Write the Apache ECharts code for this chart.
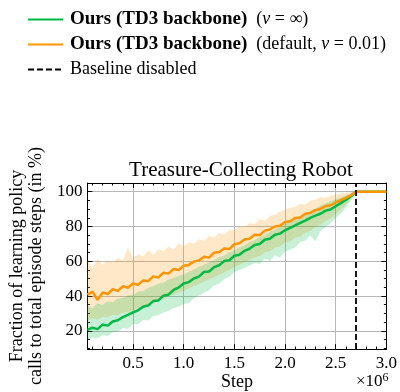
<!DOCTYPE html>
<html>
<head>
<meta charset="utf-8">
<script src="https://cdn.jsdelivr.net/npm/echarts@6/dist/echarts.min.js"></script>
<style>
html, body { margin: 0; background: #fff; }
#chart { width: 400px; height: 392px; }
</style>
</head>
<body>
<div id="chart"></div>
<script>
// steps in units of 1e6
var steps = [0.05, 0.10, 0.15, 0.20, 0.25, 0.30, 0.35, 0.40, 0.45, 0.50,
    0.55, 0.60, 0.65, 0.70, 0.75, 0.80, 0.85, 0.90, 0.95, 1.00,
    1.05, 1.10, 1.15, 1.20, 1.25, 1.30, 1.35, 1.40, 1.45, 1.50,
    1.55, 1.60, 1.65, 1.70, 1.75, 1.80, 1.85, 1.90, 1.95, 2.00,
    2.05, 2.10, 2.15, 2.20, 2.25, 2.30, 2.35, 2.40, 2.45, 2.50,
    2.55, 2.60, 2.65, 2.70, 2.80, 2.90, 3.00];

// Ours (TD3 backbone), nu = inf
var greenMean = [20.5, 21.8, 21.0, 23.6, 23.0, 25.4, 26.1, 27.9, 29.2, 30.6,
    31.8, 33.9, 34.6, 37.1, 37.5, 40.2, 40.8, 43.5, 44.9, 47.2,
    48.0, 50.1, 51.2, 53.8, 54.1, 56.6, 57.7, 60.1, 60.6, 63.2,
    63.8, 66.0, 67.2, 69.3, 69.9, 72.4, 73.0, 75.3, 75.9, 77.8,
    79.2, 80.6, 82.1, 83.4, 85.0, 86.2, 87.3, 89.1, 89.8, 91.6,
    93.4, 95.2, 97.4, 100, 100, 100, 100];
var greenLow = [15.0, 16.2, 15.8, 17.6, 17.0, 19.2, 19.5, 21.6, 21.0, 24.0,
    23.8, 26.2, 26.0, 28.5, 28.9, 30.6, 31.5, 33.0, 33.8, 35.5,
    36.0, 38.8, 40.2, 42.0, 43.4, 46.0, 47.1, 49.8, 51.0, 53.8,
    55.0, 56.2, 57.5, 59.0, 58.4, 61.5, 60.2, 63.4, 62.0, 65.5,
    66.8, 68.0, 70.9, 72.0, 74.8, 71.5, 77.6, 79.5, 82.0, 84.8,
    87.6, 90.8, 95.0, 100, 100, 100, 100];
var greenHigh = [34.5, 33.0, 35.8, 35.0, 37.0, 36.4, 38.6, 38.9, 40.5, 40.8,
    42.6, 42.9, 44.8, 45.6, 47.2, 47.6, 49.5, 50.4, 51.6, 52.5,
    54.0, 55.2, 56.8, 58.0, 59.5, 60.6, 62.4, 63.3, 65.2, 66.4,
    68.0, 69.1, 71.0, 72.2, 73.8, 75.0, 77.0, 78.1, 80.0, 81.5,
    83.2, 84.5, 86.0, 87.6, 89.0, 90.4, 92.0, 93.2, 94.6, 95.6,
    96.8, 97.8, 98.9, 100, 100, 100, 100];

// Ours (TD3 backbone), default nu = 0.01
var orangeMean = [40.8, 42.5, 37.8, 42.0, 41.2, 43.9, 43.0, 45.6, 44.8, 47.2,
    46.5, 49.0, 48.6, 51.3, 50.7, 53.4, 52.9, 55.6, 55.0, 57.4,
    57.9, 59.8, 60.5, 62.6, 62.1, 64.9, 65.3, 67.4, 67.0, 69.8,
    70.3, 72.5, 72.9, 75.2, 75.0, 77.6, 78.3, 80.0, 80.4, 82.6,
    83.0, 84.9, 85.2, 87.3, 87.8, 89.4, 90.1, 91.7, 92.2, 93.8,
    95.1, 96.4, 97.9, 100, 100, 100, 100];
var orangeLow = [26.0, 27.2, 26.5, 28.0, 27.8, 29.3, 29.0, 30.6, 30.9, 32.0,
    33.1, 34.0, 35.4, 36.1, 37.6, 38.2, 39.9, 40.6, 42.0, 43.1,
    44.5, 45.6, 47.0, 48.2, 49.6, 50.8, 52.3, 53.7, 55.0, 56.8,
    57.9, 59.5, 60.6, 62.3, 63.1, 65.0, 65.8, 67.9, 68.6, 70.8,
    71.5, 73.6, 74.2, 76.5, 77.4, 79.8, 81.0, 83.2, 84.8, 87.0,
    89.6, 92.5, 96.0, 100, 100, 100, 100];
var orangeHigh = [60.5, 56.0, 61.5, 58.0, 60.8, 59.5, 62.0, 60.4, 68.0, 61.5,
    64.0, 62.8, 66.5, 63.6, 67.0, 65.8, 68.5, 66.9, 70.4, 68.8,
    71.0, 70.2, 72.6, 71.8, 74.5, 73.6, 76.2, 75.5, 78.0, 77.8,
    80.2, 79.6, 82.0, 81.4, 84.3, 83.5, 86.0, 86.8, 88.6, 89.5,
    90.8, 91.2, 93.0, 92.6, 95.0, 95.4, 96.8, 96.5, 98.0, 98.2,
    99.0, 99.3, 99.7, 100, 100, 100, 100];

var baselineStep = 2.7;

// tick positions
var xMajor = [0.5, 1.0, 1.5, 2.0, 2.5, 3.0];
var xMinor = [0.1, 0.2, 0.3, 0.4, 0.6, 0.7, 0.8, 0.9, 1.1, 1.2, 1.3, 1.4,
    1.6, 1.7, 1.8, 1.9, 2.1, 2.2, 2.3, 2.4, 2.6, 2.7, 2.8, 2.9];
var yMajor = [20, 40, 60, 80, 100];
var yMinor = [10, 15, 25, 30, 35, 45, 50, 55, 65, 70, 75, 85, 90, 95];

var GREEN = '#00B945';
var ORANGE = '#FF9500';
var FONT = 'Liberation Serif';

function pairs(ys) {
    return steps.map(function (x, i) { return [x, ys[i]]; });
}

// shaded band between lo and hi, drawn as one polygon through the axes
function bandSeries(name, lo, hi, color) {
    return {
        name: name, type: 'custom', silent: true, clip: true, z: 1,
        data: steps.map(function (x, i) { return [x, lo[i], hi[i]]; }),
        encode: { x: 0, y: [1, 2] },
        renderItem: function (params, api) {
            if (params.dataIndex !== 0) return;
            var pts = [];
            for (var i = 0; i < steps.length; i++) pts.push(api.coord([steps[i], hi[i]]));
            for (var j = steps.length - 1; j >= 0; j--) pts.push(api.coord([steps[j], lo[j]]));
            return { type: 'polygon', shape: { points: pts }, style: { fill: color, opacity: 0.22 } };
        }
    };
}

var legendText = {
    green: '{b|Ours (TD3 backbone)}{n|  (}{i|ν}{n| = ∞)}',
    orange: '{b|Ours (TD3 backbone)}{n|  (default, }{i|ν}{n| = 0.01)}',
    base: '{n|Baseline disabled}'
};

function xAx(pos, values, len, main) {
    return {
        type: 'value', position: pos, min: 0.05, max: 3, offset: 0,
        axisLine: { show: main, onZero: false, lineStyle: { color: '#000', width: 1 } },
        axisTick: { show: true, inside: true, length: len, customValues: values, lineStyle: { color: '#000', width: 1 } },
        axisLabel: { show: false },
        splitLine: { show: false }
    };
}
function yAx(pos, values, len, main) {
    return {
        type: 'value', position: pos, min: 9.5, max: 105, offset: 0,
        axisLine: { show: main, onZero: false, lineStyle: { color: '#000', width: 1 } },
        axisTick: { show: true, inside: true, length: len, customValues: values, lineStyle: { color: '#000', width: 1 } },
        axisLabel: { show: false },
        splitLine: { show: false }
    };
}

var xBottom = xAx('bottom', xMajor, 5, true);
xBottom.axisLabel = {
    show: true, customValues: xMajor, color: '#000', fontFamily: FONT, fontSize: 17, margin: 6,
    formatter: function (v) { return v.toFixed(1); }
};
xBottom.splitLine = { show: true, lineStyle: { color: '#b8b8b8', width: 1 } };
xBottom.name = 'Step';
xBottom.nameLocation = 'middle';
xBottom.nameGap = 23;
xBottom.nameTextStyle = { color: '#000', fontFamily: FONT, fontSize: 18 };

var yLeft = yAx('left', yMajor, 5, true);
yLeft.axisLabel = { show: true, customValues: yMajor, color: '#000', fontFamily: FONT, fontSize: 17, margin: 5 };
yLeft.splitLine = { show: true, lineStyle: { color: '#b8b8b8', width: 1 } };
yLeft.name = 'Fraction of learning policy\ncalls to total episode steps (in %)';
yLeft.nameLocation = 'middle';
yLeft.nameGap = 39;
yLeft.nameTextStyle = { color: '#000', fontFamily: FONT, fontSize: 18, lineHeight: 19 };

var chart = echarts.init(document.getElementById('chart'));
chart.setOption({
    animation: false,
    backgroundColor: '#fff',
    textStyle: { fontFamily: FONT },
    title: {
        text: 'Treasure-Collecting Robot',
        left: 236, top: 155, textAlign: 'center',
        textStyle: { fontFamily: FONT, fontSize: 21, fontWeight: 'normal', color: '#000' }
    },
    legend: {
        orient: 'vertical', left: 22, top: 4,
        itemWidth: 35, itemHeight: 14, itemGap: 4,
        data: ['green', 'orange', 'base'],
        itemStyle: { opacity: 0 },
        formatter: function (name) { return legendText[name]; },
        textStyle: {
            padding: [0, 0, 0, 2],
            lineHeight: 21,
            rich: {
                b: { fontFamily: FONT, fontSize: 19, fontWeight: 'bold', color: '#000' },
                n: { fontFamily: FONT, fontSize: 18, color: '#000' },
                i: { fontFamily: FONT, fontSize: 18, fontStyle: 'italic', color: '#000' }
            }
        }
    },
    grid: { left: 82, right: 10, top: 183, bottom: 39 },
    xAxis: [xBottom, xAx('bottom', xMinor, 2.5, false), xAx('top', xMajor, 5, true), xAx('top', xMinor, 2.5, false)],
    yAxis: [yLeft, yAx('left', yMinor, 2.5, false), yAx('right', yMajor, 5, true), yAx('right', yMinor, 2.5, false)],
    series: [
        bandSeries('oBand', orangeLow, orangeHigh, ORANGE),
        bandSeries('gBand', greenLow, greenHigh, GREEN),
        {
            name: 'green', type: 'line', data: pairs(greenMean), symbol: 'none', z: 3,
            color: GREEN, lineStyle: { color: GREEN, width: 2.5 }
        },
        {
            name: 'orange', type: 'line', data: pairs(orangeMean), symbol: 'none', z: 4,
            color: ORANGE, lineStyle: { color: ORANGE, width: 2.5 }
        },
        {
            name: 'base', type: 'line', data: [], symbol: 'none', z: 5,
            color: '#000', lineStyle: { color: '#000', width: 1.8, type: [6, 3] },
            markLine: {
                silent: true, symbol: 'none', label: { show: false },
                lineStyle: { color: '#000', width: 1.8, type: [6, 3] },
                data: [{ xAxis: baselineStep }]
            }
        }
    ],
    graphic: [{
        type: 'text', left: 356, top: 372,
        style: {
            text: '×10{s|6}', fontFamily: FONT, fontSize: 17, fill: '#000',
            rich: { s: { fontFamily: FONT, fontSize: 12, verticalAlign: 'top', padding: [0, 0, 8, 0] } }
        }
    }]
});
</script>
</body>
</html>
